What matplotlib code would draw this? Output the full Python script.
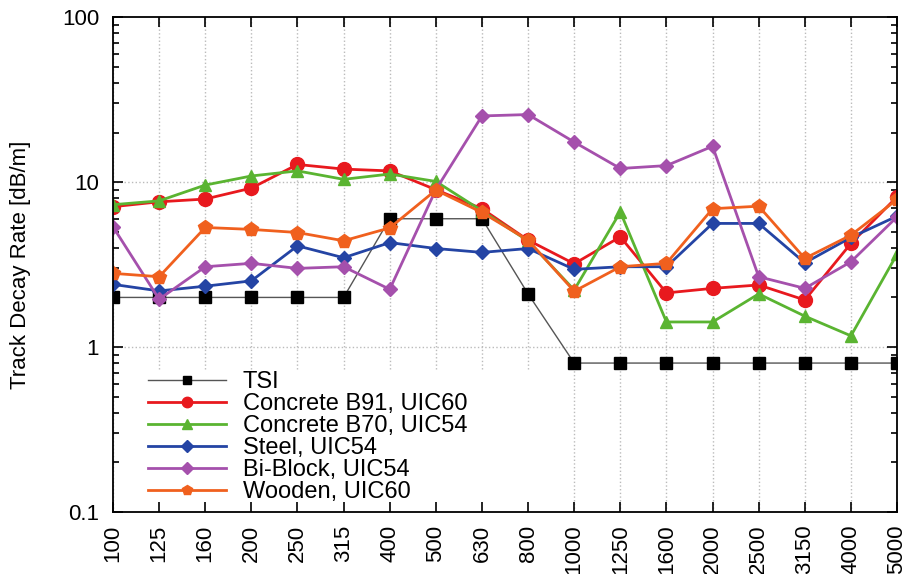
import matplotlib.pyplot as plt
from matplotlib.ticker import FuncFormatter, LogLocator, NullFormatter

plt.rcParams['font.family'] = ['Liberation Sans', 'DejaVu Sans']

# frequency bands [Hz]
freqs = ["100", "125", "160", "200", "250", "315", "400", "500", "630", "800",
         "1000", "1250", "1600", "2000", "2500", "3150", "4000", "5000"]

tsi = [2, 2, 2, 2, 2, 2, 6, 6, 6, 2.1, 0.8, 0.8, 0.8, 0.8, 0.8, 0.8, 0.8, 0.8]
b91 = [7.1, 7.6, 7.9, 9.2, 12.8, 12.0, 11.7, 9.0, 6.9, 4.45, 3.2, 4.66, 2.13, 2.27, 2.38, 1.93, 4.25, 8.15]
b70 = [7.3, 7.7, 9.6, 10.9, 11.7, 10.4, 11.2, 10.1, 6.7, 4.4, 2.22, 6.6, 1.42, 1.42, 2.1, 1.54, 1.17, 3.66]
steel = [2.4, 2.19, 2.34, 2.52, 4.11, 3.48, 4.3, 3.96, 3.75, 3.96, 2.96, 3.07, 3.07, 5.62, 5.62, 3.24, 4.62, 6.22]
biblock = [5.36, 1.95, 3.07, 3.22, 3.0, 3.07, 2.24, 9.0, 25.2, 25.7, 17.5, 12.1, 12.6, 16.5, 2.67, 2.27, 3.29, 6.16]
wooden = [2.8, 2.67, 5.31, 5.17, 4.95, 4.41, 5.28, 8.95, 6.55, 4.45, 2.18, 3.07, 3.22, 6.9, 7.15, 3.45, 4.77, 7.85]

x = range(len(freqs))

fig = plt.figure(figsize=(9.21, 5.74), dpi=100)
ax = fig.add_axes([0.1227, 0.108, 0.8513, 0.862])

ax.plot(x, tsi, color='#555555', lw=1.0, marker='s', ms=8, mfc='black', mec='black', label='TSI')
ax.plot(x, b91, color='#e8191e', lw=2.0, marker='o', ms=10, label='Concrete B91, UIC60')
ax.plot(x, b70, color='#5ab431', lw=2.0, marker='^', ms=9, label='Concrete B70, UIC54')
ax.plot(x, steel, color='#2444a4', lw=2.0, marker='D', ms=7.5, label='Steel, UIC54')
ax.plot(x, biblock, color='#a550ac', lw=2.0, marker='D', ms=7.5, label='Bi-Block, UIC54')
ax.plot(x, wooden, color='#f0601e', lw=2.0, marker='p', ms=10, label='Wooden, UIC60')

ax.set_yscale('log')
ax.set_ylim(0.1, 100)
ax.set_xlim(0, len(freqs) - 1)
ax.set_xticks(list(x))
ax.set_xticklabels(freqs, rotation=90, fontsize=16)
ax.yaxis.set_major_formatter(FuncFormatter(lambda v, _: f"{v:g}"))
ax.yaxis.set_minor_locator(LogLocator(base=10, subs=range(2, 10)))
ax.yaxis.set_minor_formatter(NullFormatter())
ax.tick_params(axis='y', labelsize=16, pad=10)
ax.tick_params(axis='x', pad=9)
ax.tick_params(which='both', direction='in', top=True, right=True, width=1.2)
ax.tick_params(which='major', length=7)
ax.tick_params(which='minor', length=4)
ax.set_ylabel('Track Decay Rate [dB/m]', fontsize=16, labelpad=22)

# dotted grid; vertical lines stop above the legend block
leg_top = 0.29
for i in x:
    ax.axvline(i, ymin=leg_top if 0 < i < 10 else 0, color='#bbbbbb', ls=':', lw=1.0, zorder=1)
for v in [1, 10]:
    ax.axhline(v, color='#bbbbbb', ls=':', lw=1.0, zorder=1)
for s in ax.spines.values():
    s.set_linewidth(1.3)

ax.legend(loc='lower left', bbox_to_anchor=(0.024, -0.015), fontsize=17, handlelength=3.3,
          frameon=False, borderaxespad=0.3, labelspacing=0.0, handletextpad=0.7,
          markerscale=0.75)

fig.savefig('out.png', dpi=100)
